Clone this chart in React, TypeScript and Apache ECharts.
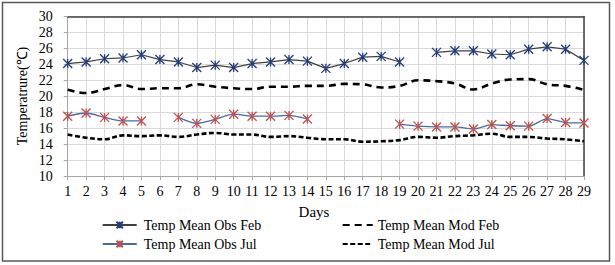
import React, { useEffect, useRef } from "react";
import * as echarts from "echarts";

const days = ["1","2","3","4","5","6","7","8","9","10","11","12","13","14","15","16","17","18","19","20","21","22","23","24","25","26","27","28","29"];

const obsFeb = [24.1, 24.3, 24.7, 24.8, 25.2, 24.6, 24.3, 23.6, 23.9, 23.6, 24.1, 24.3, 24.6, 24.4, 23.5, 24.1, 24.9, 25.0, 24.3, null, 25.5, 25.7, 25.7, 25.3, 25.2, 25.9, 26.2, 25.9, 24.5];
const modFeb = [20.8, 20.4, 20.9, 21.4, 20.9, 21.0, 21.0, 21.5, 21.2, 21.0, 20.9, 21.2, 21.2, 21.3, 21.3, 21.55, 21.5, 21.1, 21.3, 22.0, 21.9, 21.6, 20.85, 21.6, 22.1, 22.15, 21.5, 21.3, 20.8];
const obsJul = [17.5, 17.9, 17.35, 16.9, 16.9, null, 17.35, 16.6, 17.1, 17.75, 17.5, 17.5, 17.6, 17.15, null, null, null, null, 16.5, 16.25, 16.15, 16.15, 15.9, 16.45, 16.3, 16.25, 17.2, 16.7, 16.65];
const modJul = [15.2, 14.8, 14.6, 15.1, 15.0, 15.1, 14.9, 15.2, 15.4, 15.2, 15.2, 14.9, 15.0, 14.8, 14.6, 14.6, 14.3, 14.35, 14.5, 14.9, 14.8, 15.0, 15.1, 15.3, 14.9, 14.9, 14.7, 14.6, 14.35];

const seriesNames = ["Temp Mean Obs Feb", "Temp Mean Mod Feb", "Temp Mean Obs Jul", "Temp Mean Mod Jul"];
const xTitle = "Days";
const yTitle = "Temperatrure(℃)";

const FONT = '"Liberation Serif", "Times New Roman", serif';
const STAR = "path://M0,0L10,10M10,0L0,10M5,0L5,10";

export default function App() {
  const ref = useRef<HTMLDivElement>(null);
  useEffect(() => {
    if (!ref.current) return;
    const chart = echarts.init(ref.current, null, { renderer: "svg" });
    const textStyle = { fontFamily: FONT, fontSize: 14, color: "#000" };
    chart.setOption({
      animation: false,
      backgroundColor: "#fff",
      textStyle: { fontFamily: FONT },
      grid: { left: 67.7, right: 31, top: 16.5, bottom: 89, containLabel: false },
      xAxis: [
        {
          type: "category",
          data: days,
          boundaryGap: false,
          axisLine: { lineStyle: { color: "#a6a6a6", width: 1 } },
          axisTick: { show: true, interval: 0, length: 4, lineStyle: { color: "#a6a6a6" } },
          axisLabel: { interval: 0, margin: 8, ...textStyle },
          splitLine: { show: true, interval: 0, lineStyle: { color: "#d9d9d9", width: 1 } },
        },
        {
          type: "category",
          data: days,
          boundaryGap: false,
          position: "top",
          axisLine: { lineStyle: { color: "#404040", width: 1.5 } },
          axisTick: { show: false },
          axisLabel: { show: false },
          splitLine: { show: false },
        },
      ],
      yAxis: [
        {
          type: "value",
          min: 10,
          max: 30,
          interval: 2,
          axisLine: { show: true, lineStyle: { color: "#a6a6a6", width: 1 } },
          axisTick: { show: true, length: 4, lineStyle: { color: "#a6a6a6" } },
          axisLabel: { margin: 15, ...textStyle },
          splitLine: { show: true, lineStyle: { color: "#d9d9d9", width: 1 } },
        },
        {
          type: "value",
          min: 10,
          max: 30,
          interval: 2,
          position: "right",
          axisLine: { show: true, lineStyle: { color: "#404040", width: 1.5 } },
          axisTick: { show: false },
          axisLabel: { show: false },
          splitLine: { show: false },
        },
      ],
      legend: [
        {
          data: [seriesNames[0], seriesNames[2]],
          orient: "vertical",
          left: 101.7,
          top: 217,
          padding: 0,
          itemWidth: 34,
          itemHeight: 8,
          itemGap: 3,
          textStyle: { ...textStyle, lineHeight: 16, padding: [0, 0, 0, 2] },
        },
        {
          data: [seriesNames[1], seriesNames[3]],
          orient: "vertical",
          left: 341.7,
          top: 217,
          padding: 0,
          itemWidth: 30,
          itemHeight: 8,
          itemGap: 3,
          itemStyle: { opacity: 0 },
          textStyle: { ...textStyle, lineHeight: 16 },
        },
      ],
      graphic: [
        {
          type: "rect",
          shape: { x: 2.5, y: 2.5, width: 607, height: 258.5 },
          style: { fill: "none", stroke: "#595959", lineWidth: 1.5 },
          silent: true,
        },
        {
          type: "text",
          x: 314,
          y: 212,
          style: { text: xTitle, font: `15px ${FONT}`, fill: "#000", textAlign: "center", textVerticalAlign: "middle" },
        },
        {
          type: "text",
          x: 22,
          y: 96,
          rotation: Math.PI / 2,
          style: { text: yTitle, font: `14px ${FONT}`, fill: "#000", textAlign: "center", textVerticalAlign: "middle" },
        },
      ],
      series: [
        {
          name: seriesNames[0],
          type: "line",
          data: obsFeb,
          connectNulls: false,
          symbol: STAR,
          symbolSize: 9,
          showSymbol: true,
          lineStyle: { color: "#404040", width: 1.2 },
          itemStyle: { color: "#1f3d7a", borderColor: "#1f3d7a", borderWidth: 1.3 },
          z: 5,
        },
        {
          name: seriesNames[1],
          type: "line",
          data: modFeb,
          smooth: 0.4,
          symbol: "none",
          lineStyle: { color: "#000", width: 2.6, type: [7, 5] },
          itemStyle: { color: "#000" },
        },
        {
          name: seriesNames[2],
          type: "line",
          data: obsJul,
          connectNulls: false,
          smooth: 0.25,
          symbol: STAR,
          symbolSize: 9,
          showSymbol: true,
          lineStyle: { color: "#4a6aa5", width: 1.3 },
          itemStyle: { color: "#c0504d", borderColor: "#c0504d", borderWidth: 1.3 },
          z: 5,
        },
        {
          name: seriesNames[3],
          type: "line",
          data: modJul,
          smooth: 0.4,
          symbol: "none",
          lineStyle: { color: "#000", width: 2.6, type: [5, 2.5] },
          itemStyle: { color: "#000" },
        },
      ],
    });
    return () => chart.dispose();
  }, []);
  return <div ref={ref} style={{ position: "fixed", left: 0, top: 0, width: 615, height: 265 }} />;
}
